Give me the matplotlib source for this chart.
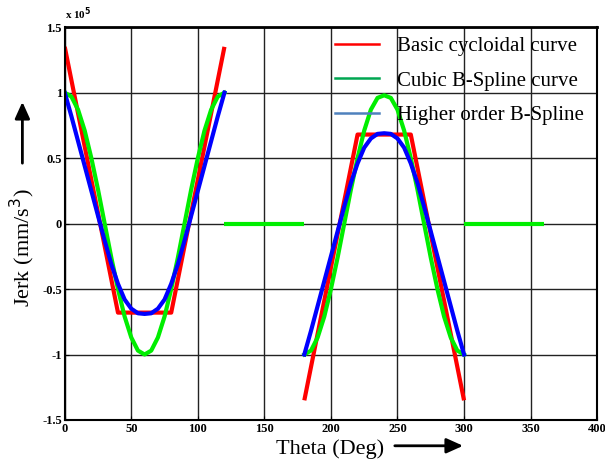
import numpy as np
import matplotlib
matplotlib.use("Agg")
import matplotlib.pyplot as plt
from matplotlib.lines import Line2D

# theta (deg) and jerk values (x 1e5 mm/s^3)
red_theta_1 = [0, 40, 80, 120]
red_jerk_1 = [1.35, -0.68, -0.68, 1.35]
red_theta_2 = [180, 220, 260, 300]
red_jerk_2 = [-1.35, 0.68, 0.68, -1.35]

theta_1 = [0, 5, 10, 15, 20, 25, 30, 35, 40, 45, 50, 55, 60,
           65, 70, 75, 80, 85, 90, 95, 100, 105, 110, 115, 120]
theta_2 = [180, 185, 190, 195, 200, 205, 210, 215, 220, 225, 230, 235, 240,
           245, 250, 255, 260, 265, 270, 275, 280, 285, 290, 295, 300]

green_jerk_1 = [1.0, 0.97, 0.87, 0.71, 0.5, 0.26, 0.0, -0.26, -0.5, -0.71, -0.87, -0.97, -1.0,
                -0.97, -0.87, -0.71, -0.5, -0.26, 0.0, 0.26, 0.5, 0.71, 0.87, 0.97, 1.0]
green_jerk_2 = [-1.0, -0.97, -0.87, -0.71, -0.5, -0.26, 0.0, 0.26, 0.5, 0.71, 0.87, 0.96, 0.98,
                0.96, 0.87, 0.71, 0.5, 0.26, 0.0, -0.26, -0.5, -0.71, -0.87, -0.97, -1.0]
green_flat_theta = [[120, 180], [300, 360]]
green_flat_jerk = [0, 0]

blue_jerk_1 = [1.0, 0.82, 0.63, 0.44, 0.25, 0.06, -0.13, -0.31, -0.46, -0.58, -0.65, -0.685, -0.69,
               -0.685, -0.65, -0.58, -0.46, -0.31, -0.13, 0.06, 0.25, 0.44, 0.63, 0.82, 1.0]
blue_jerk_2 = [-1.0, -0.82, -0.63, -0.44, -0.25, -0.06, 0.13, 0.31, 0.46, 0.58, 0.65, 0.685, 0.69,
               0.685, 0.65, 0.58, 0.46, 0.31, 0.13, -0.06, -0.25, -0.44, -0.63, -0.82, -1.0]

labels = ["Basic cycloidal curve", "Cubic B-Spline curve", "Higher order B-Spline"]
xticks = [0, 50, 100, 150, 200, 250, 300, 350, 400]
yticks = [-1.5, -1, -0.5, 0, 0.5, 1, 1.5]
ytick_labels = ["-1.5", "-1", "-0.5", "0", "0.5", "1", "1.5"]

plt.rcParams["font.family"] = ["Liberation Serif", "DejaVu Serif"]

fig = plt.figure(figsize=(6.05, 4.61), dpi=100)
ax = fig.add_axes([0.107, 0.089, 0.880, 0.852])

ax.plot(red_theta_1, red_jerk_1, color="#ff0000", lw=3, solid_capstyle="butt")
ax.plot(red_theta_2, red_jerk_2, color="#ff0000", lw=3, solid_capstyle="butt")
ax.plot(theta_1, green_jerk_1, color="#00ee00", lw=3)
ax.plot(theta_2, green_jerk_2, color="#00ee00", lw=3)
for th in green_flat_theta:
    ax.plot(th, green_flat_jerk, color="#00ee00", lw=3, solid_capstyle="butt")
ax.plot(theta_1, blue_jerk_1, color="#0000ff", lw=3)
ax.plot(theta_2, blue_jerk_2, color="#0000ff", lw=3)

ax.set_xlim(0, 400)
ax.set_ylim(-1.5, 1.5)
ax.set_xticks(xticks)
ax.set_xticklabels([str(t) for t in xticks], fontweight="bold", fontsize=9)
ax.set_yticks(yticks)
ax.set_yticklabels(ytick_labels, fontweight="bold", fontsize=9)
ax.tick_params(direction="in", length=3, pad=2)
ax.grid(True, color="#222222", lw=1)
ax.set_axisbelow(True)
for s in ax.spines.values():
    s.set_linewidth(1.5)
ax.spines["top"].set_linewidth(2)

# multiplier text
ax.text(0.0, 1.012, r"x 10$^{\mathbf{5}}$", transform=ax.transAxes, fontsize=8,
        fontweight="bold", ha="left", va="bottom")

# legend
handles = [Line2D([], [], color="#ff0000", lw=1.8),
           Line2D([], [], color="#00a651", lw=1.8),
           Line2D([], [], color="#4f81bd", lw=1.8)]
ax.legend(handles, labels, loc="upper left", bbox_to_anchor=(0.49, 1.0), frameon=False,
          fontsize=15, handlelength=2.1, handletextpad=0.9, labelspacing=0.72,
          borderaxespad=0.05)

# axis labels with arrows
fig.text(0.037, 0.462, r"Jerk (mm/s$^3$)", rotation=90, fontsize=16, ha="center", va="center")
fig.text(0.545, 0.026, "Theta (Deg)", fontsize=16, ha="center", va="center")
fig.add_artist(plt.Annotation("", xy=(0.037, 0.785), xytext=(0.037, 0.64),
                              xycoords="figure fraction", textcoords="figure fraction",
                              arrowprops=dict(arrowstyle="-|>,head_length=1.0,head_width=0.45",
                                              color="black", lw=2)))
fig.add_artist(plt.Annotation("", xy=(0.77, 0.033), xytext=(0.648, 0.033),
                              xycoords="figure fraction", textcoords="figure fraction",
                              arrowprops=dict(arrowstyle="-|>,head_length=1.0,head_width=0.45",
                                              color="black", lw=2)))

fig.savefig("out.png", dpi=100)
